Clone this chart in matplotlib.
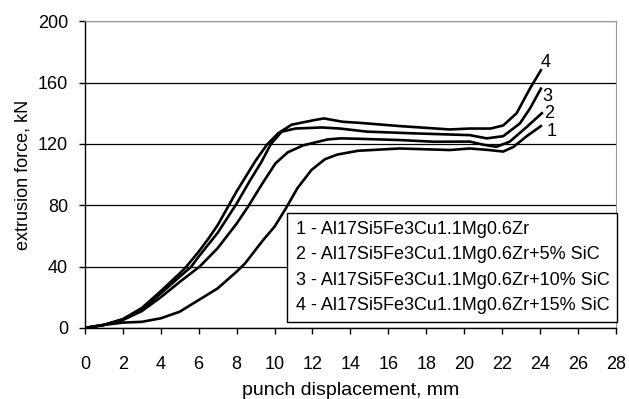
import matplotlib.pyplot as plt
from matplotlib.lines import Line2D

plt.rcParams['font.family'] = ['Liberation Sans', 'DejaVu Sans']

# curve 1 - base alloy
x1 = [0, 1, 2, 3, 4, 5, 6, 7, 8, 8.44, 9.4, 10, 10.6, 11.2, 11.95, 12.66, 13.3, 14.4, 16.6, 19.25, 20.3, 21.3, 22.06, 22.6, 23.3, 24.05]
y1 = [0, 2, 3.5, 4, 6.3, 10.6, 18.2, 25.8, 36.7, 42, 57.3, 66, 78, 91, 103, 110, 113, 115.5, 117, 116, 117, 116, 115, 118, 125, 131.6]
# curve 2 - +5% SiC
x2 = [0, 1, 2, 3, 4, 5, 6.05, 7, 8, 8.6, 9.35, 10.05, 10.7, 11.5, 12.8, 13.5, 14.5, 16.6, 18.4, 20.3, 21.0, 21.7, 22.4, 23.3, 24.1]
y2 = [0, 2, 5.2, 11, 20, 30, 40, 52, 68, 79, 94, 107.3, 114.5, 119, 122.9, 123.6, 123.3, 122.5, 121.4, 121.5, 119.5, 118.1, 121.4, 131, 140]
# curve 3 - +10% SiC
x3 = [0, 1, 2, 3, 4, 5, 5.61, 6, 7, 8, 8.7, 9.3, 9.8, 10.37, 11.1, 12.5, 13.45, 14.86, 17.5, 20.3, 21.19, 22.06, 22.94, 23.47, 24.05]
y3 = [0, 2, 5.5, 12, 22.5, 33.4, 40, 46.5, 62, 81, 96, 108, 119.7, 127.9, 130, 130.7, 130, 128, 126.8, 125.7, 123.6, 125, 133.3, 143, 156]
# curve 4 - +15% SiC
x4 = [0, 1, 2, 3, 4, 5, 5.35, 6, 6.5, 7, 7.5, 8, 8.6, 9.0, 9.6, 10.2, 10.9, 12.1, 12.6, 13.6, 14.5, 16.6, 19.25, 20.3, 21.4, 22.06, 22.77, 23.47, 24.05]
y4 = [0, 2, 5.8, 13, 24, 35.6, 40, 49.7, 58, 67, 78, 89, 101, 109, 119.5, 127, 132.5, 135.5, 136.6, 134.4, 133.7, 131.6, 129.4, 130, 130, 132, 140, 156, 168]

labels = ["1 - Al17Si5Fe3Cu1.1Mg0.6Zr",
          "2 - Al17Si5Fe3Cu1.1Mg0.6Zr+5% SiC",
          "3 - Al17Si5Fe3Cu1.1Mg0.6Zr+10% SiC",
          "4 - Al17Si5Fe3Cu1.1Mg0.6Zr+15% SiC"]
end_marks = ["1", "2", "3", "4"]
mark_pos = [(24.6, 128), (24.5, 140), (24.4, 151), (24.3, 172.8)]

fig = plt.figure(figsize=(6.29, 3.99), dpi=100)
ax = fig.add_axes([0.135, 0.178, 0.844, 0.769])

for xs, ys in [(x1, y1), (x2, y2), (x3, y3), (x4, y4)]:
    ax.plot(xs, ys, color='black', lw=1.9, solid_joinstyle='round')

for t, (tx, ty) in zip(end_marks, mark_pos):
    ax.text(tx, ty, t, fontsize=13, ha='center', va='center')

ax.set_xlim(0, 28)
ax.set_ylim(0, 200)
ax.set_xticks(range(0, 29, 2))
ax.set_yticks(range(0, 201, 40))
ax.yaxis.grid(True, color='black', lw=0.9)
ax.set_axisbelow(True)
ax.tick_params(direction='out', length=4, width=1, labelsize=13, colors='black')
ax.tick_params(axis='x', pad=16)
ax.tick_params(axis='y', pad=8)
ax.spines['top'].set_color('#999999')
ax.spines['right'].set_color('#999999')
ax.spines['left'].set_linewidth(1)
ax.spines['bottom'].set_linewidth(1)
ax.set_xlabel("punch displacement, mm", fontsize=14, labelpad=7)
ax.set_ylabel("extrusion force, kN", fontsize=13, labelpad=5)

handles = [Line2D([], [], visible=False) for _ in labels]
leg = ax.legend(handles, labels, loc='lower right', bbox_to_anchor=(1.003, 0.02),
                handlelength=0, handletextpad=0, fontsize=13, fancybox=False,
                framealpha=1, edgecolor='black', borderpad=0.45, labelspacing=0.45,
                borderaxespad=0)
leg.get_frame().set_linewidth(1)

fig.savefig("out.png", dpi=100)
plt.close(fig)
